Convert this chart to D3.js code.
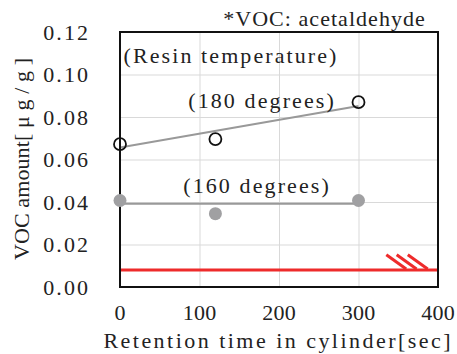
<!DOCTYPE html>
<html>
<head>
<meta charset="utf-8">
<script src="https://cdn.jsdelivr.net/npm/d3@7"></script>
</head>
<body style="margin:0">
<svg id="chart" width="457" height="354"></svg>
<script>
// 数据
const xTicks = [0, 100, 200, 300, 400];
const yTicks = [0, 0.02, 0.04, 0.06, 0.08, 0.10, 0.12];

const time180 = [0, 120, 300];
const voc180 = [0.0672, 0.0696, 0.0870];
const trend180 = [[0, 0.0656], [300, 0.0852]];

const time160 = [0, 120, 300];
const voc160 = [0.0407, 0.0345, 0.0407];
const trend160 = [[0, 0.0392], [300, 0.0392]];

const limitLine = [[0, 0.008], [400, 0.008]];
const hatchStart = [335, 348, 362];

const svg = d3.select("#chart");
const margin = { top: 32, right: 19, bottom: 67, left: 120 };
const width = 457 - margin.left - margin.right;
const height = 354 - margin.top - margin.bottom;
const charW = 11.2;
const fontSize = 22;
const textColor = "#222";

const x = d3.scaleLinear().domain([0, 400]).range([0, width]);
const y = d3.scaleLinear().domain([0, 0.12]).range([height, 0]);

const g = svg.append("g").attr("transform", `translate(${margin.left},${margin.top})`);

// 网格线
g.append("g")
  .call(d3.axisLeft(y).tickValues(yTicks).tickSize(-width).tickFormat(""))
  .call(s => s.select(".domain").remove())
  .call(s => s.selectAll("text").remove())
  .selectAll("line").attr("stroke", "#d9d9d9").attr("stroke-width", 1);

g.append("g")
  .attr("transform", `translate(0,${height})`)
  .call(d3.axisBottom(x).tickValues(xTicks).tickSize(-height).tickFormat(""))
  .call(s => s.select(".domain").remove())
  .call(s => s.selectAll("text").remove())
  .selectAll("line").attr("stroke", "#d9d9d9").attr("stroke-width", 1);

// 文字样式 + 等宽
function label(sel) {
  sel.style("font-family", '"Liberation Serif"')
    .attr("font-size", fontSize)
    .attr("fill", textColor)
    .attr("dy", "0.35em")
    .each(function () {
      const t = d3.select(this);
      t.attr("textLength", t.text().length * charW).attr("lengthAdjust", "spacing");
    });
}

g.append("g").selectAll("text")
  .data(yTicks)
  .join("text")
  .text(d => d3.format(".2f")(d))
  .attr("x", -32)
  .attr("y", d => y(d))
  .attr("text-anchor", "end")
  .call(label);

g.append("g").selectAll("text")
  .data(xTicks)
  .join("text")
  .text(d => d)
  .attr("x", d => x(d))
  .attr("y", height + 25)
  .attr("text-anchor", "middle")
  .call(label);

// 趋势线
const line = d3.line().x(d => x(d[0])).y(d => y(d[1]));

g.append("path").datum(trend180)
  .attr("d", line).attr("fill", "none")
  .attr("stroke", "#999").attr("stroke-width", 2);

g.append("path").datum(trend160)
  .attr("d", line).attr("fill", "none")
  .attr("stroke", "#999").attr("stroke-width", 2);

// 基准线 (red)
g.append("path").datum(limitLine)
  .attr("d", line).attr("fill", "none")
  .attr("stroke", "#ee2b2b").attr("stroke-width", 3);

g.append("g").selectAll("line")
  .data(hatchStart)
  .join("line")
  .attr("x1", d => x(d)).attr("y1", y(0.0152))
  .attr("x2", d => x(d + 25)).attr("y2", y(0.0085))
  .attr("stroke", "#ee2b2b").attr("stroke-width", 3);

// 边框
g.append("rect")
  .attr("width", width).attr("height", height)
  .attr("fill", "none").attr("stroke", "#111").attr("stroke-width", 2);

// 数据点
g.append("g").selectAll("circle")
  .data(time160.map((t, i) => [t, voc160[i]]))
  .join("circle")
  .attr("cx", d => x(d[0])).attr("cy", d => y(d[1]))
  .attr("r", 6.5).attr("fill", "#a0a0a2");

g.append("g").selectAll("circle")
  .data(time180.map((t, i) => [t, voc180[i]]))
  .join("circle")
  .attr("cx", d => x(d[0])).attr("cy", d => y(d[1]))
  .attr("r", 6).attr("fill", "none")
  .attr("stroke", "#111").attr("stroke-width", 1.8);

// 注释文字
const notes = [
  { t: "*VOC: acetaldehyde", x: 324, y: 18 },
  { t: "(Resin temperature)", x: 230, y: 55 },
  { t: "(180 degrees)", x: 261, y: 100 },
  { t: "(160 degrees)", x: 256, y: 185 }
];
svg.append("g").selectAll("text")
  .data(notes)
  .join("text")
  .text(d => d.t)
  .attr("x", d => d.x).attr("y", d => d.y)
  .attr("text-anchor", "middle")
  .call(label);

// 轴标题
svg.append("text")
  .text("Retention time in cylinder[sec]")
  .attr("x", 277).attr("y", 340)
  .attr("text-anchor", "middle")
  .call(label);

svg.append("text")
  .text("VOC amount[ μ g / g ]")
  .attr("transform", "translate(21,159) rotate(-90)")
  .attr("text-anchor", "middle")
  .call(label)
  .attr("textLength", 202);
</script>
</body>
</html>
